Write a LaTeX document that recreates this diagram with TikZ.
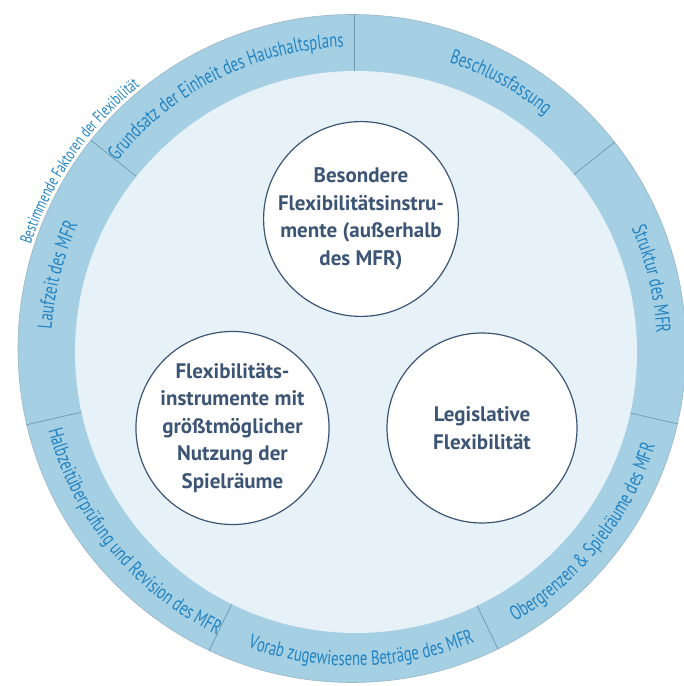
\documentclass[tikz,border=0pt]{standalone}
\usepackage{fontspec}
\setmainfont{PT Sans}
\newfontfamily\ringfont[FakeStretch=0.72]{PT Sans}
\usetikzlibrary{decorations.text}

\definecolor{ringblue}{HTML}{A5CFE3}
\definecolor{innerblue}{HTML}{E6F2F8}
\definecolor{labelblue}{HTML}{2283C2}
\definecolor{slate}{HTML}{3D5575}
\definecolor{divider}{HTML}{6F97AE}

\tikzset{
  instrument/.style={circle, draw=slate, line width=1.2pt, fill=white, text=slate,
    font=\bfseries\fontsize{21}{27.5}\selectfont, align=center, inner sep=0pt},
  seglabel/.style={decorate, decoration={text along path, text align=center,
    text color=labelblue, text={|\ringfont\fontsize{20.5}{24}\selectfont|#1}}},
  outerlabel/.style={decorate, decoration={text along path, text align=center,
    text color=labelblue, text={|\ringfont\fontsize{16.5}{19}\selectfont|#1}}},
}

\begin{document}
\begin{tikzpicture}[x=1pt,y=1pt]
\useasboundingbox (0,0) rectangle (684,686);

%Shape: Ring
\draw[draw=divider!70, line width=0.6pt, fill=ringblue] (352,337.5) circle (334);
%Straight Lines: segment borders
\begin{scope}
\clip (352,337.5) circle (334);
\foreach \k in {0,...,6}
  \draw[divider, line width=0.7pt] (354,336) -- ++({90-\k*360/7}:345);
\end{scope}
%Shape: Inner disc
\fill[innerblue] (356,334) circle (281);

% Ring labels, upper half (clockwise)
\begin{scope}[shift={(354,336)}]
\path[seglabel={Laufzeit des MFR}] (205.8:303) arc[start angle=205.8, end angle=125.8, radius=303];
\path[seglabel={Grundsatz der Einheit des Haushaltsplans}] (156.7:303) arc[start angle=156.7, end angle=76.7, radius=303];
\path[seglabel={Beschlussfassung}] (101.3:303) arc[start angle=101.3, end angle=21.3, radius=303];
\path[seglabel={Struktur des MFR}] (53.4:303) arc[start angle=53.4, end angle=-26.6, radius=303];
% Ring labels, lower half (counter-clockwise)
\path[seglabel={Obergrenzen {\&} Spielräume des MFR}] (-78.5:316) arc[start angle=-78.5, end angle=1.5, radius=316];
\path[seglabel={Vorab zugewiesene Beträge des MFR}] (-128.6:316) arc[start angle=-128.6, end angle=-48.6, radius=316];
\path[seglabel={Halbzeitüberprüfung und Revision des MFR}] (-180.5:316) arc[start angle=-180.5, end angle=-100.5, radius=316];
% Outer caption
\path[outerlabel={Bestimmende Faktoren der Flexibilität}] (185.5:340) arc[start angle=185.5, end angle=105.5, radius=340];
\end{scope}

% Text Node
\draw (361,467) node [instrument, minimum size=188pt] (besondere) {Besondere\\Flexibilitätsinstru-\\mente (außerhalb\\des MFR)};
% Text Node
\draw (232.5,258) node [instrument, minimum size=190pt] (spielraeume) {Flexibilitäts-\\instrumente mit\\größtmöglicher\\Nutzung der\\Spielräume};
% Text Node
\draw (482,258) node [instrument, minimum size=190pt] (legislative) {Legislative\\Flexibilität};

\end{tikzpicture}
\end{document}
